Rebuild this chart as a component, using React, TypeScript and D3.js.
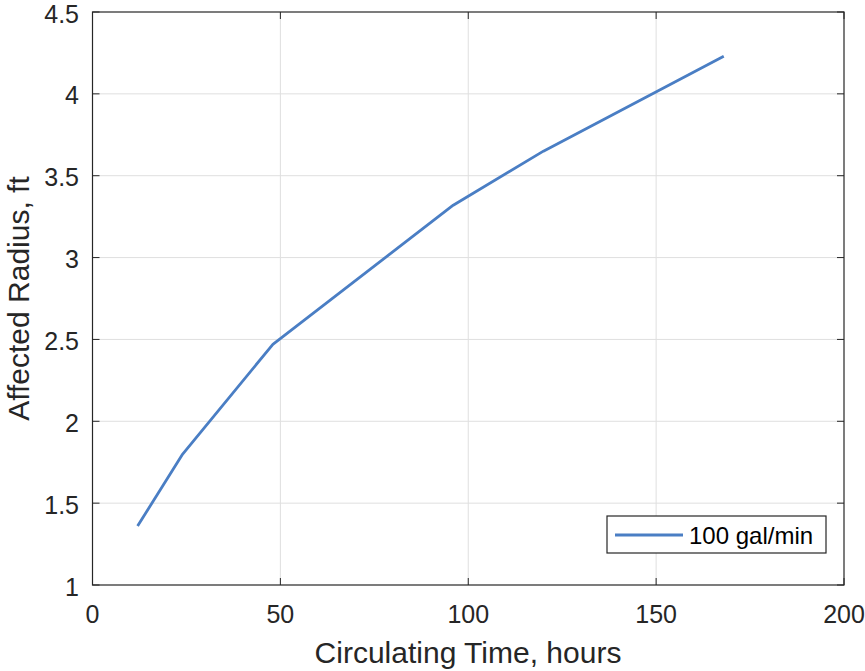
import React from "react";
import * as d3 from "d3";

const hours = [12, 24, 48, 96, 120, 168];
const radius = [1.36, 1.8, 2.47, 3.32, 3.65, 4.23];
const xTicks = [0, 50, 100, 150, 200];
const yTicks = [1, 1.5, 2, 2.5, 3, 3.5, 4, 4.5];
const seriesName = "100 gal/min";

const W = 865;
const H = 671;
const m = { left: 92.5, right: 844, top: 12, bottom: 585 };
const font = "'Liberation Sans', Arial, Helvetica, sans-serif";
const ink = "#262626";

export default function App() {
  const x = d3.scaleLinear().domain([0, 200]).range([m.left, m.right]);
  const y = d3.scaleLinear().domain([1, 4.5]).range([m.bottom, m.top]);
  const line = d3
    .line<number>()
    .x((_, i) => x(hours[i]))
    .y((d) => y(d));

  const tick = 7;

  return (
    <svg
      width={W}
      height={H}
      style={{ position: "absolute", left: 0, top: 0, background: "#fff" }}
      fontFamily={font}
    >
      {/* grid */}
      {xTicks.slice(1, -1).map((t) => (
        <line key={"gx" + t} x1={x(t)} x2={x(t)} y1={m.top} y2={m.bottom} stroke="#dfdfdf" strokeWidth={1} />
      ))}
      {yTicks.slice(1, -1).map((t) => (
        <line key={"gy" + t} x1={m.left} x2={m.right} y1={y(t)} y2={y(t)} stroke="#dfdfdf" strokeWidth={1} />
      ))}

      {/* data */}
      <path d={line(radius) ?? ""} fill="none" stroke="#4a7ec4" strokeWidth={2.8} strokeLinejoin="round" />

      {/* box */}
      <rect x={m.left} y={m.top} width={m.right - m.left} height={m.bottom - m.top} fill="none" stroke={ink} strokeWidth={1.2} />

      {/* ticks */}
      {xTicks.map((t) => (
        <g key={"tx" + t}>
          <line x1={x(t)} x2={x(t)} y1={m.bottom} y2={m.bottom - tick} stroke={ink} />
          <line x1={x(t)} x2={x(t)} y1={m.top} y2={m.top + tick} stroke={ink} />
          <text x={x(t)} y={m.bottom + 38} textAnchor="middle" fontSize={25} fill={ink}>
            {t}
          </text>
        </g>
      ))}
      {yTicks.map((t) => (
        <g key={"ty" + t}>
          <line x1={m.left} x2={m.left + tick} y1={y(t)} y2={y(t)} stroke={ink} />
          <line x1={m.right} x2={m.right - tick} y1={y(t)} y2={y(t)} stroke={ink} />
          <text x={m.left - 13.5} y={y(t) + 10.5} textAnchor="end" fontSize={25} fill={ink}>
            {t}
          </text>
        </g>
      ))}

      {/* axis labels */}
      <text x={468} y={663} textAnchor="middle" fontSize={30} fill={ink}>
        Circulating Time, hours
      </text>
      <text
        transform={`translate(29,${(m.top + m.bottom) / 2}) rotate(-90)`}
        textAnchor="middle"
        fontSize={30}
        fill={ink}
      >
        Affected Radius, ft
      </text>

      {/* legend */}
      <rect x={607} y={516} width={219} height={37} fill="#fff" stroke={ink} strokeWidth={1.2} />
      <line x1={615} x2={683} y1={535} y2={535} stroke="#4a7ec4" strokeWidth={2.8} />
      <text x={689} y={544} fontSize={24} fill="#000">
        {seriesName}
      </text>
    </svg>
  );
}
